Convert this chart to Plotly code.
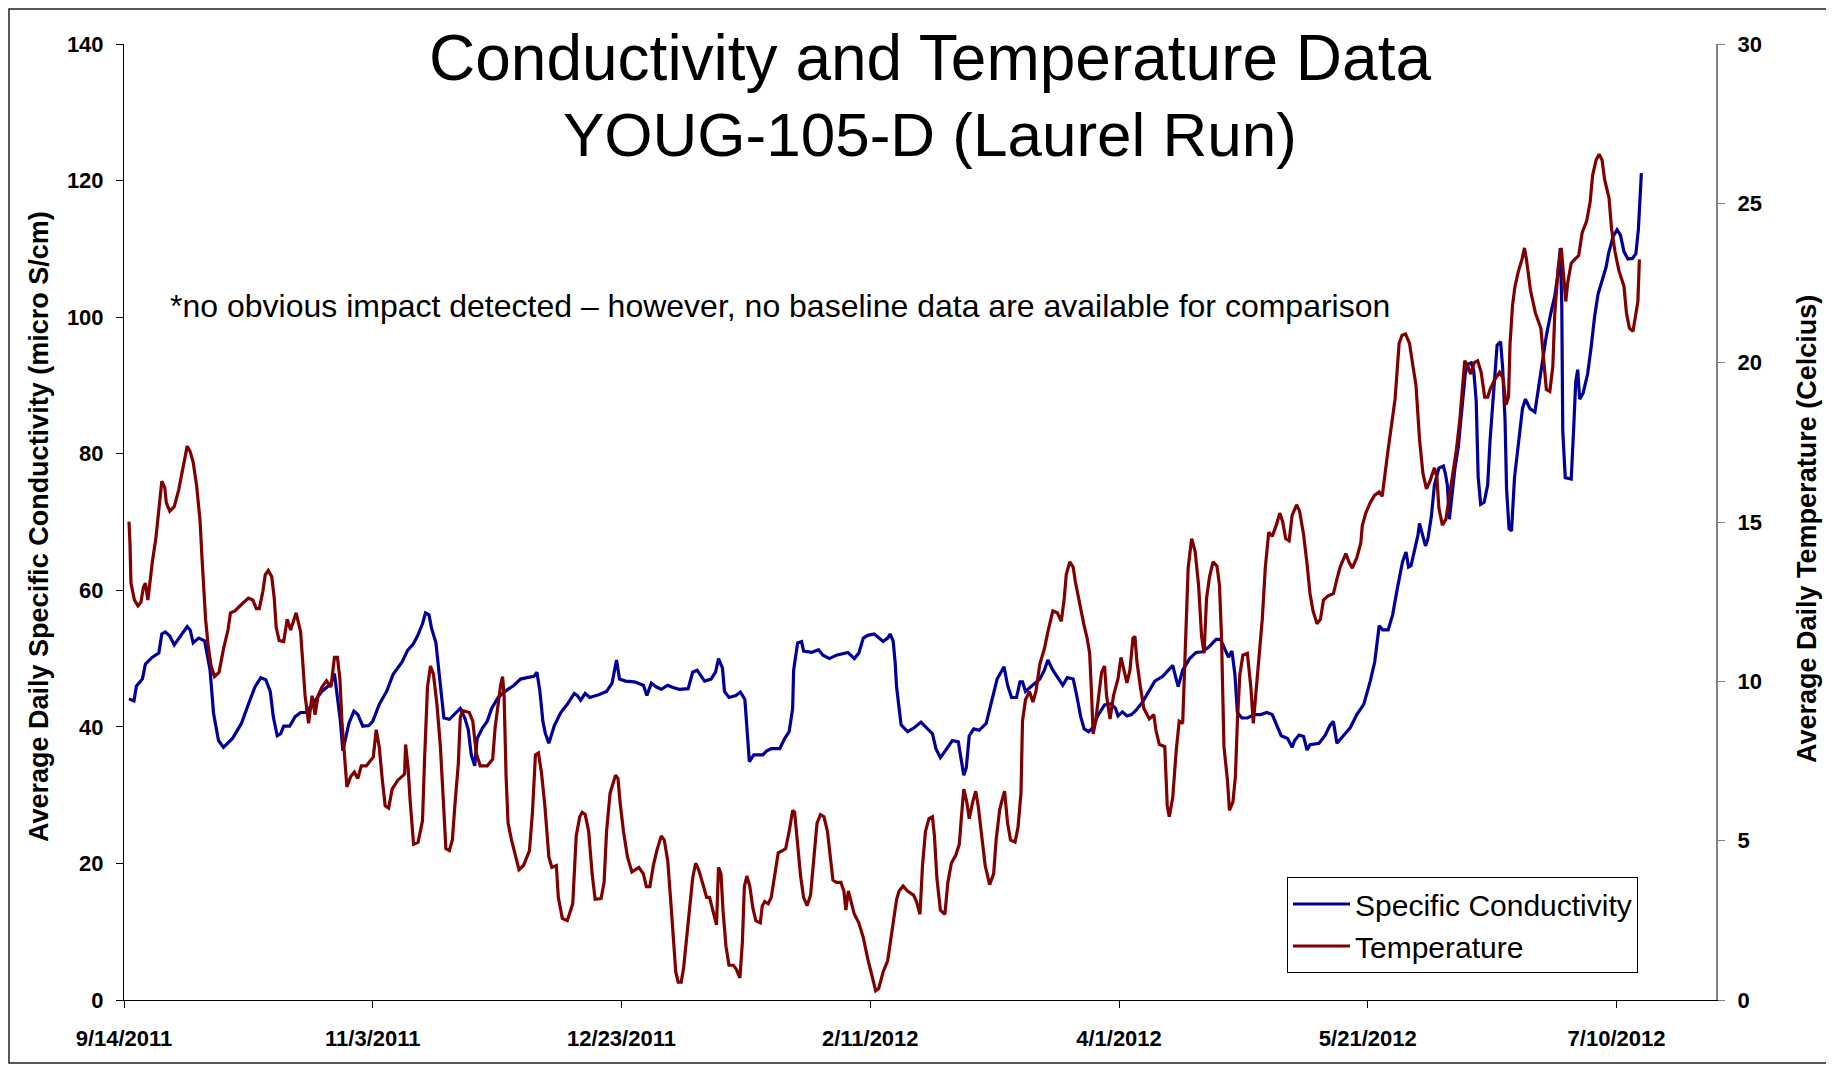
import pandas as pd
import plotly.graph_objects as go

# ---------------- data ----------------
start_date = "2011-09-14"
end_date = "2012-07-30"
x_tick_labels = ["9/14/2011", "11/3/2011", "12/23/2011", "2/11/2012",
                 "4/1/2012", "5/21/2012", "7/10/2012"]

# days after 9/14/2011 and average daily specific conductivity (micro S/cm)
cond_day = [1, 2, 2.5, 3.7, 4.3, 5.7, 7, 7.6, 8.3, 9.2, 10.1, 11, 12.7, 13.3, 13.9, 15, 16.2, 17.3, 18, 19,
            20, 21.8, 23.6, 25, 26.3, 27.5, 28.5, 29.4, 30, 30.8, 31.5, 32.1, 33.3, 34.4, 35.5, 36.6, 38, 39.8, 41.6, 42.3,
            43.5, 44, 45.2, 46.2, 47, 48, 49.2, 50, 51.3, 52.8, 54.1, 55.9, 57, 58.1, 59, 60, 60.6, 61.3, 61.8, 62.7,
            63.1, 63.8, 64.3, 65.4, 66.7, 67.6, 68.5, 69.2, 69.8, 70.5, 71, 72.1, 73, 73.9, 75.2, 76.6, 78.4, 79.7, 81, 82.4,
            83, 83.6, 84.2, 84.7, 85.4, 86.5, 87.8, 89.1, 90.5, 91.1, 91.8, 92.7, 93.6, 95.4, 97, 98.1, 99, 99.6, 100.8, 102.6,
            104.4, 105.1, 106, 107.1, 108, 109.3, 110.2, 111.6, 113.4, 114.3, 115.2, 116.7, 118, 118.9, 119.5, 120.3, 120.7, 121.6, 123, 123.9,
            124.8, 125.2, 125.7, 126.6, 128.4, 129.2, 130.1, 131.8, 132.8, 133.7, 134.4, 134.6, 135.4, 136.2, 136.6, 138.2, 139.6, 140.5, 141.8, 143.2,
            145.5, 146.8, 147.7, 148.6, 149.5, 150.8, 151.7, 152.6, 153.5, 154, 154.6, 155, 155.3, 155.8, 156.2, 157.5, 158.9, 160.2, 161.6, 162.5,
            163.2, 164.1, 165, 166.5, 167.7, 168.3, 168.8, 169.3, 169.9, 170.8, 171.9, 173.3, 174.6, 175.5, 176.9, 177.6, 178.4, 179.4, 180.1, 180.6,
            181.2, 182.7, 184.1, 185, 185.7, 186.7, 188.1, 188.7, 189.6, 190.8, 191.5, 192.3, 193, 193.9, 194.8, 195.7, 197.1, 198.4, 199.3, 199.8,
            200.7, 201.6, 202.5, 203.4, 204.7, 206.1, 207.2, 208.8, 209.9, 210.8, 211.5, 211.9, 212.8, 214.2, 215.5, 216.8, 218.2, 219.5, 220.4, 221.3,
            222, 222.7, 223.3, 223.8, 224.7, 225.8, 227.2, 228.5, 229.7, 230.8, 231.7, 232.6, 233.9, 234.8, 235.3, 236.2, 237.1, 237.8, 238.4, 240.2,
            241.4, 242.4, 243.1, 243.8, 245.1, 246.5, 247.8, 249.2, 250.5, 251.4, 252.3, 253, 254.1, 255, 255.9, 257, 257.7, 258.2, 258.7, 259.4,
            260.1, 260.4, 260.9, 261.6, 262.1, 262.8, 263.4, 264.3, 265.2, 265.6, 266, 266.4, 266.9, 267.5, 268.2, 268.9, 269.6, 270.1, 270.8, 271.3,
            271.8, 272.2, 272.7, 273.4, 274.1, 274.6, 275.3, 276, 276.7, 277.1, 277.6, 277.9, 278.4, 278.9, 279.5, 280.4, 281.1, 281.7, 282.6, 283.6,
            284.2, 285, 285.9, 286.8, 287.6, 288.2, 288.7, 289, 289.2, 289.7, 290.9, 291.4, 291.8, 292.2, 292.6, 293.3, 294.2, 294.9, 295.6, 296.3,
            297.2, 297.9, 298.4, 299.3, 300.1, 300.8, 301.5, 302.3, 303.2, 303.9, 304.4, 304.7, 305]
cond_val = [44.1, 43.8, 46, 47, 49.2, 50.2, 50.8, 53.6, 53.9, 53.3, 52, 53, 54.7, 54.2, 52.3, 53, 52.6, 48.3, 42, 38,
            37, 38.3, 40.5, 43.3, 45.8, 47.2, 46.9, 45.2, 41.5, 38.7, 39, 40.1, 40.1, 41.5, 42.1, 42.1, 43.4, 45.2, 46.3, 47.8,
            40.8, 36.5, 40.5, 42.3, 41.8, 40.1, 40.2, 40.8, 43.3, 45.2, 47.7, 49.5, 51.2, 52.1, 53.3, 55.1, 56.7, 56.4, 54.5, 52.3,
            49.5, 44.6, 41.3, 41.1, 42.1, 42.7, 41.3, 39.6, 35.9, 34.3, 38.3, 39.9, 40.8, 42.7, 44.3, 45.2, 46.1, 47, 47.2, 47.4,
            48, 45.2, 40.8, 39, 37.6, 40.2, 42.1, 43.3, 44.9, 44.6, 43.9, 44.9, 44.3, 44.7, 45.2, 46.4, 49.8, 47, 46.7, 46.6,
            46.1, 44.6, 46.4, 45.8, 45.5, 46.1, 45.8, 45.5, 45.6, 48, 48.3, 46.7, 47, 48, 50, 48.6, 45.2, 44.3, 44.6, 45.1,
            44, 40.2, 34.9, 35.9, 35.9, 36.5, 36.8, 36.8, 38.3, 39.3, 42.7, 48.3, 52.3, 52.5, 51.1, 50.9, 51.3, 50.5, 50, 50.5,
            50.9, 50, 50.8, 53, 53.4, 53.6, 53.1, 52.5, 53, 53.6, 52.6, 49.5, 45.8, 42.1, 40.3, 39.3, 39.9, 40.7, 39.6, 39,
            36.8, 35.5, 36.4, 38, 37.8, 35.2, 32.9, 34, 38.7, 39.7, 39.5, 40.5, 44.6, 47, 48.8, 46.1, 44.3, 44.3, 46.6, 46.6,
            45.2, 46.1, 47, 48.3, 49.8, 48.3, 46.7, 46.1, 47.2, 47, 44.6, 41.5, 39.7, 39.3, 39.9, 41.6, 43.2, 43.4, 42.7, 41.6,
            42.2, 41.6, 41.8, 42.4, 43.6, 45.3, 46.7, 47.4, 48.3, 49, 47, 45.9, 48.3, 50, 50.9, 51, 51.8, 52.8, 52.8, 51.4,
            50.2, 51.1, 47.7, 42.1, 41.3, 41.3, 41.8, 41.8, 42.1, 41.8, 40.2, 38.7, 38.3, 37, 38, 38.8, 38.6, 36.6, 37.4, 37.6,
            38.7, 40.2, 40.8, 37.6, 38.7, 39.9, 41.8, 43.3, 46.7, 49.5, 54.8, 54.2, 54.2, 56.4, 60.1, 64.2, 65.6, 63.4, 63.6, 65.9,
            68.1, 69.8, 68.4, 66.5, 67.6, 70.9, 75.4, 77.9, 78.2, 77.1, 75.4, 70.4, 73.7, 77.7, 81, 86.1, 91.7, 93.1, 93.3, 92.2,
            87.7, 76.5, 72.6, 72.9, 75.4, 82.1, 89.4, 95.9, 96.4, 92.8, 84.9, 74.9, 69, 68.7, 76.5, 82.1, 86.6, 88, 86.6, 86.1,
            88.9, 92.8, 97.3, 100.6, 103.1, 106.2, 110.1, 101.7, 83.3, 76.5, 76.3, 83.8, 90.5, 92.3, 88, 88.9, 91.7, 95.6, 100.1, 103.4,
            105.7, 107.3, 109.3, 111.8, 112.8, 112, 109.6, 108.5, 108.6, 109.3, 112.9, 116.9, 121.1]

# days after 9/14/2011 and average daily temperature (Celcius)
temp_day = [1, 1.2, 1.4, 2.1, 2.8, 3.4, 3.9, 4.3, 4.8, 5.2, 5.7, 6.4, 7, 7.6, 8.2, 8.5, 9.2, 10.1, 11, 11.5,
            12.1, 12.7, 13.3, 13.9, 14.6, 15.3, 15.7, 16.2, 16.4, 16.9, 17.5, 18.2, 19.1, 20, 20.9, 21.4, 22.3, 23.6, 25, 25.9,
            26.6, 27.2, 27.9, 28.4, 29, 29.7, 30.2, 30.6, 31.2, 32.1, 32.8, 33.5, 34.1, 34.6, 35.5, 36, 36.4, 37.1, 37.8, 38.4,
            39, 39.8, 40.7, 41.6, 42.3, 42.9, 43.4, 43.8, 44.3, 44.8, 45.6, 46.3, 47, 47.7, 48.7, 50.1, 50.7, 51.3, 51.9, 52.5,
            53.2, 53.9, 55, 56.4, 56.6, 57.1, 57.5, 58.2, 59.1, 60, 60.4, 61, 61.6, 62.2, 62.9, 63.6, 64.2, 64.7, 65.4, 66,
            66.5, 67.2, 67.6, 68.1, 69.4, 70.1, 70.8, 71.6, 73, 74.1, 74.6, 75.1, 75.7, 76.1, 76.4, 76.8, 77.2, 77.9, 78.8, 79.4,
            80.3, 81.5, 82.1, 82.7, 83.3, 83.9, 84.6, 85.4, 86, 86.9, 87.3, 88.1, 89.1, 90.2, 90.9, 91.6, 92.1, 92.7, 93.4, 94.1,
            94.7, 95.9, 96.5, 97, 97.7, 98.3, 98.8, 99.3, 99.7, 100.4, 101.2, 102.1, 103.5, 104.4, 105, 105.7, 106.4, 107.1, 108, 108.6,
            109.3, 110, 110.5, 110.9, 111.4, 112, 112.5, 113.1, 113.8, 114.3, 114.9, 115.5, 116.5, 117.1, 117.7, 118.5, 119.1, 119.5, 120, 120.4,
            121, 121.6, 122.5, 123.1, 123.8, 124.3, 124.7, 125.2, 125.8, 126.4, 127, 127.9, 128.3, 128.8, 129.5, 130.1, 130.9, 131.5, 132.4, 133,
            133.7, 134.4, 134.8, 135.4, 136, 136.6, 137.3, 138, 138.7, 139.3, 140, 140.7, 141.4, 142, 142.5, 143.2, 144.1, 144.7, 145.1, 145.6,
            146.3, 146.8, 147.7, 148.6, 149.5, 150.4, 151.1, 151.7, 152.6, 153.5, 154.4, 155.3, 155.8, 156.6, 157.5, 158.7, 159.3, 160, 160.5, 161.1,
            161.8, 162.5, 162.9, 163.4, 164.1, 165, 165.6, 166.3, 167.2, 167.9, 168.3, 168.8, 169.4, 169.9, 170.6, 171.2, 171.7, 172.4, 173.1, 174,
            174.8, 175.3, 176, 176.4, 177, 177.6, 178.2, 179.1, 179.7, 180.3, 180.6, 181.2, 182, 182.7, 183.3, 184.1, 185, 185.7, 186.7, 187.6,
            188.4, 189, 189.4, 190.1, 190.8, 191.2, 191.9, 192.9, 193.6, 194.1, 194.5, 194.8, 195.3, 195.9, 196.5, 197.1, 197.5, 198.2, 198.9, 199.8,
            200.4, 201, 201.6, 202.2, 202.8, 203.2, 203.6, 204.3, 205, 206.1, 207, 207.4, 208.1, 209.2, 209.7, 210.1, 210.8, 211.5, 212.1, 212.8,
            213.3, 213.9, 214.6, 215.3, 216, 216.6, 217.1, 217.6, 218.2, 218.9, 219.7, 220.2, 220.6, 221.1, 221.8, 222.2, 222.9, 223.4, 223.8, 224.3,
            224.9, 225.8, 226.5, 227, 227.4, 228.1, 228.8, 229.4, 230.1, 230.8, 231.7, 232.3, 232.9, 233.5, 234.2, 234.8, 235.7, 236.3, 237.1, 237.8,
            238.4, 239, 239.8, 240.5, 241.1, 242, 243.1, 243.8, 244.5, 245.6, 246.2, 246.9, 247.8, 248.6, 248.9, 249.6, 250.5, 251.4, 252.3, 252.9,
            253.4, 254.1, 254.8, 255.5, 256.3, 256.9, 257.6, 258.4, 259.1, 259.7, 260.4, 261.1, 261.8, 262.5, 263.4, 263.9, 264.3, 265, 265.7, 266.3,
            267.1, 267.8, 268.5, 269.1, 269.5, 270, 270.7, 271.4, 272.1, 272.8, 273.5, 274.1, 274.6, 275.5, 276.5, 277.2, 277.8, 278.3, 278.6, 279.1,
            279.6, 280.3, 281, 281.5, 281.9, 282.7, 283.7, 284.8, 285.4, 285.9, 286.6, 287.2, 287.6, 288.3, 288.9, 289.3, 289.8, 290.2, 290.9, 291.6,
            292.4, 293.1, 294, 294.7, 295.2, 295.9, 296.5, 297.1, 297.6, 298.5, 299, 299.7, 300.5, 301.5, 302, 302.6, 303.3, 303.8, 304.3, 304.6]
temp_val = [15.01, 14.34, 13.08, 12.55, 12.37, 12.48, 12.95, 13.08, 12.55, 13.15, 13.75, 14.48, 15.28, 16.28, 16.08, 15.61, 15.34, 15.48, 16.01, 16.41,
            16.88, 17.38, 17.21, 16.88, 16.14, 15.01, 13.81, 12.61, 11.95, 11.15, 10.48, 10.15, 10.28, 11.02, 11.61, 12.15, 12.21, 12.41, 12.61, 12.55,
            12.28, 12.28, 12.81, 13.35, 13.48, 13.28, 12.61, 11.68, 11.28, 11.25, 11.95, 11.61, 11.95, 12.15, 11.55, 10.35, 9.55, 8.68, 9.55, 8.95,
            9.55, 9.82, 10.02, 9.82, 10.75, 10.75, 10.08, 8.75, 7.55, 6.69, 7.02, 7.15, 6.95, 7.35, 7.35, 7.62, 8.48, 7.95, 6.95, 6.09,
            6.02, 6.62, 6.89, 7.09, 8.02, 7.29, 6.29, 4.89, 4.95, 5.62, 7.49, 9.82, 10.48, 10.22, 9.28, 7.95, 6.22, 4.75, 4.69, 5.02,
            6.09, 7.42, 8.88, 9.08, 9.02, 8.75, 7.75, 7.35, 7.35, 7.55, 8.55, 9.22, 9.88, 10.15, 9.55, 7.02, 5.55, 5.02, 4.42, 4.09,
            4.22, 4.69, 5.89, 7.69, 7.75, 7.15, 6.09, 4.49, 4.16, 4.22, 3.22, 2.56, 2.49, 3.02, 5.15, 5.75, 5.89, 5.82, 5.29, 3.96,
            3.16, 3.18, 3.69, 5.29, 6.49, 6.82, 7.05, 6.95, 6.22, 5.29, 4.49, 4.02, 4.16, 3.96, 3.56, 3.56, 4.22, 4.69, 5.15, 5.02,
            4.36, 2.89, 1.82, 0.89, 0.56, 0.56, 1.03, 1.96, 2.89, 3.82, 4.29, 4.09, 3.56, 3.22, 3.22, 2.69, 2.36, 4.16, 3.96, 2.82,
            1.69, 1.09, 1.09, 0.96, 0.69, 1.82, 3.56, 3.89, 3.56, 2.89, 2.49, 2.42, 2.96, 3.09, 3.02, 3.22, 3.96, 4.62, 4.69, 4.75,
            5.29, 5.95, 5.89, 4.89, 3.89, 3.22, 2.96, 3.29, 4.49, 5.55, 5.82, 5.75, 5.29, 4.49, 3.76, 3.69, 3.69, 3.42, 2.82, 3.42,
            2.96, 2.69, 2.42, 1.96, 1.29, 0.69, 0.29, 0.36, 0.89, 1.23, 2.16, 3.16, 3.42, 3.58, 3.42, 3.29, 3.09, 2.69, 4.22, 5.29,
            5.69, 5.75, 5.15, 3.82, 2.82, 2.69, 3.69, 4.29, 4.55, 4.89, 5.69, 6.62, 6.22, 5.69, 6.22, 6.55, 6.09, 5.15, 4.22, 3.62,
            3.96, 5.02, 5.95, 6.22, 6.55, 5.55, 5.02, 4.95, 5.42, 6.49, 8.75, 9.42, 9.68, 9.35, 9.68, 10.55, 11.02, 11.55, 12.21, 12.15,
            11.88, 12.61, 13.35, 13.75, 13.58, 13.15, 12.55, 11.81, 11.35, 10.88, 9.55, 8.35, 8.75, 9.62, 10.28, 10.48, 9.55, 8.82, 9.55, 10.08,
            10.75, 10.35, 9.95, 10.35, 11.35, 11.41, 10.62, 9.82, 9.15, 8.82, 8.95, 8.48, 8.02, 7.95, 6.09, 5.75, 6.35, 7.82, 8.75, 8.68,
            10.62, 13.55, 14.48, 14.08, 13.01, 11.41, 10.88, 12.61, 13.28, 13.75, 13.61, 13.01, 11.41, 7.95, 6.89, 5.95, 6.22, 7.02, 8.75, 10.22,
            10.82, 10.88, 9.82, 8.68, 9.42, 10.62, 11.95, 13.55, 14.68, 14.55, 14.94, 15.28, 15.01, 14.48, 14.41, 15.21, 15.54, 15.34, 14.61, 13.68,
            12.75, 12.21, 11.81, 11.95, 12.55, 12.68, 12.75, 13.21, 13.61, 14.01, 13.75, 13.55, 13.88, 14.34, 14.88, 15.28, 15.61, 15.84, 15.94, 15.81,
            16.48, 17.28, 18.07, 18.87, 20.6, 20.86, 20.9, 20.6, 19.88, 19.28, 17.6, 16.52, 16.04, 16.28, 16.7, 16.4, 15.44, 14.9, 15.08, 15.68,
            16.46, 17.24, 18.2, 19.16, 20.06, 19.94, 19.64, 20, 20.06, 19.7, 18.92, 18.92, 19.16, 19.46, 19.7, 19.52, 18.68, 18.92, 20.6, 21.8,
            22.4, 22.88, 23.24, 23.6, 23.24, 22.28, 21.56, 21.08, 20, 19.16, 19.1, 19.88, 21.56, 23, 23.6, 22.76, 21.92, 22.52, 23.12, 23.24,
            23.36, 24.08, 24.44, 25.04, 25.88, 26.36, 26.54, 26.36, 25.76, 25.16, 24.2, 23.48, 22.88, 22.4, 21.56, 21.08, 20.98, 21.44, 21.92, 23.24]

# ---------------- figure ----------------
t0 = pd.Timestamp(start_date)
cond_x = t0 + pd.to_timedelta(cond_day, unit="D")
temp_x = t0 + pd.to_timedelta(temp_day, unit="D")
tick_vals = pd.to_datetime(x_tick_labels, format="%m/%d/%Y")

FONT = "Arial, Liberation Sans, sans-serif"
OFF = 8                      # page (body) margin of the browser
W, H = 1834 - OFF, 1065 - OFF
PW, PH = 1592, 956           # plot area size
L, T = 124 - OFF, 44 - OFF
R, B = W - L - PW, H - T - PH


def px(xs):
    """screen x (reference pixels) -> paper coordinate"""
    return (xs - OFF - L) / PW


def py(ys):
    """screen y (reference pixels) -> paper coordinate"""
    return (T + PH - (ys - OFF)) / PH


fig = go.Figure()
fig.add_trace(go.Scatter(x=cond_x, y=cond_val, name="Specific Conductivity", mode="lines",
                         line=dict(color="#000099", width=3.2), yaxis="y"))
fig.add_trace(go.Scatter(x=temp_x, y=temp_val, name="Temperature", mode="lines",
                         line=dict(color="#800000", width=3.2), yaxis="y2"))

tickfont = dict(family=FONT, size=22, color="black", weight="bold")

fig.update_layout(
    width=W, height=H,
    margin=dict(l=L, r=R, t=T, b=B, pad=0),
    paper_bgcolor="white", plot_bgcolor="white",
    showlegend=True,
    legend=dict(x=px(1287), y=py(877), xanchor="left", yanchor="top",
                bgcolor="white", bordercolor="black", borderwidth=1,
                font=dict(family=FONT, size=30, color="black"),
                itemwidth=57, tracegroupgap=3),
    xaxis=dict(type="date", range=[t0, pd.Timestamp(end_date)],
               tickvals=tick_vals, ticktext=x_tick_labels,
               ticks="outside", ticklen=7, tickwidth=1, tickcolor="black",
               showline=True, linecolor="black", linewidth=1,
               showgrid=False, zeroline=False, tickfont=tickfont,
               ticklabelstandoff=12),
    yaxis=dict(range=[0, 140], tick0=0, dtick=20, ticks="outside", ticklen=7,
               tickcolor="black", showline=True, linecolor="black", linewidth=1,
               showgrid=False, zeroline=False, tickfont=tickfont,
               ticklabelstandoff=8),
    yaxis2=dict(range=[0, 30], tick0=0, dtick=5, overlaying="y", side="right",
                ticks="outside", ticklen=7, tickcolor="#808080",
                showline=True, linecolor="#808080", linewidth=2,
                showgrid=False, zeroline=False, tickfont=tickfont,
                ticklabelstandoff=8),
)

fig.add_annotation(text="Conductivity and Temperature Data", xref="paper", yref="paper",
                   x=px(930), y=py(58), xanchor="center", yanchor="middle", showarrow=False,
                   font=dict(family=FONT, size=64, color="black"))
fig.add_annotation(text="YOUG-105-D (Laurel Run)", xref="paper", yref="paper",
                   x=px(930), y=py(134), xanchor="center", yanchor="middle", showarrow=False,
                   font=dict(family=FONT, size=62, color="black"))
fig.add_annotation(text="*no obvious impact detected \u2013 however, no baseline data are available for comparison",
                   xref="paper", yref="paper", x=px(780), y=py(306), xanchor="center", yanchor="middle",
                   showarrow=False, font=dict(family=FONT, size=32, color="black"))
fig.add_annotation(text="Average Daily Specific Conductivity (micro S/cm)", xref="paper", yref="paper",
                   x=px(39), y=py(527), xanchor="center", yanchor="middle", textangle=-90, showarrow=False,
                   font=dict(family=FONT, size=27, color="black", weight="bold"))
fig.add_annotation(text="Average Daily Temperature (Celcius)", xref="paper", yref="paper",
                   x=px(1807), y=py(529), xanchor="center", yanchor="middle", textangle=-90, showarrow=False,
                   font=dict(family=FONT, size=27, color="black", weight="bold"))

# chart-area frame (kept just inside the figure)
fig.add_shape(type="rect", xref="paper", yref="paper",
              x0=px(OFF + 1), x1=px(OFF + W - 2), y0=py(OFF + H - 2), y1=py(OFF + 1),
              line=dict(color="#222222", width=1.5), fillcolor="rgba(0,0,0,0)", layer="below")

fig.write_html("out.html")
